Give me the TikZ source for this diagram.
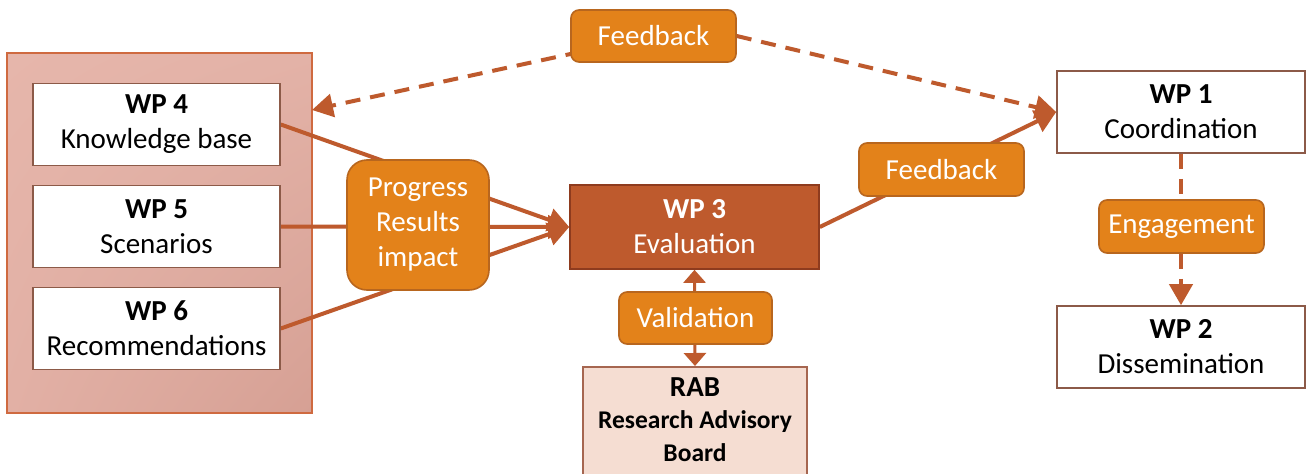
\documentclass[tikz,border=0pt]{standalone}
\usepackage{fontspec}
\setmainfont{Carlito}
\usetikzlibrary{arrows.meta,shadings}
\definecolor{conn}{HTML}{BE5A2D}
\definecolor{orfill}{HTML}{E3821A}
\definecolor{ordraw}{HTML}{B8661E}
\definecolor{wpdraw}{HTML}{8C5A48}
\definecolor{wp3fill}{HTML}{BE5A2D}
\definecolor{wp3draw}{HTML}{8E3B1E}
\definecolor{rabfill}{HTML}{F5DDD2}
\definecolor{rabdraw}{HTML}{A66650}
\definecolor{paneldraw}{HTML}{CF6A40}
\definecolor{pul}{RGB}{230,182,171}
\definecolor{pur}{RGB}{227,178,167}
\definecolor{pll}{RGB}{226,176,165}
\definecolor{plr}{RGB}{214,160,148}
\pgfdeclarelayer{bottom}
\pgfdeclarelayer{lines}
\pgfsetlayers{bottom,lines,main}
\tikzset{
  wpbox/.style={draw=wpdraw, line width=1.6pt, fill=white, minimum width=247pt, minimum height=82pt, align=center, inner sep=0pt, font=\fontsize{29}{35}\selectfont},
  orbox/.style={draw=ordraw, line width=1.6pt, fill=orfill, rounded corners=8pt, text=white, align=center, inner sep=0pt, font=\fontsize{29}{35}\selectfont},
  conn/.style={draw=conn, line width=4pt, -{Triangle[length=21pt,width=23pt]}},
  dconn/.style={conn, dash pattern=on 15pt off 10pt},
  vconn/.style={draw=conn, line width=3pt, {Triangle[length=13pt,width=22pt]}-{Triangle[length=13pt,width=22pt]}}
}
\begin{document}
\begin{tikzpicture}[x=1pt,y=-1pt]
\useasboundingbox (0,0) rectangle (1307,474);
% panel
\begin{pgfonlayer}{bottom}
\fill[white] (0,0) rectangle (1307,474);
\node[minimum width=305pt, minimum height=360pt, inner sep=0pt] (panel) at (159.5,233) {};
\shade[upper left=pul, upper right=pur, lower left=pll, lower right=plr]
  (panel.north west) rectangle (panel.south east);
\draw[paneldraw, line width=1.8pt] (panel.north west) rectangle (panel.south east);
\end{pgfonlayer}
% boxes
\node[wpbox] (wp4) at (156.5,124.5) {\textbf{WP 4}\\Knowledge base};
\node[wpbox] (wp5) at (156.5,226.5) {\textbf{WP 5}\\Scenarios};
\node[wpbox] (wp6) at (156.5,328.5) {\textbf{WP 6}\\Recommendations};
\node[orbox, minimum width=142pt, minimum height=130pt, rounded corners=20pt] (prog) at (418,225) {Progress\\Results\\impact};
\node[orbox, minimum width=165pt, minimum height=52pt] (fbtop) at (653.5,36) {Feedback};
\node[draw=wp3draw, line width=1.6pt, fill=wp3fill, text=white, minimum width=249pt, minimum height=84pt, align=center, inner sep=0pt, font=\fontsize{29}{35}\selectfont] (wp3) at (694.5,227) {\textbf{WP 3}\\Evaluation};
\node[orbox, minimum width=153pt, minimum height=52pt] (val) at (695.5,318) {Validation};
\begin{scope}
\clip (0,0) rectangle (1307,474);
\node[draw=rabdraw, line width=1.6pt, fill=rabfill, minimum width=224pt, minimum height=130pt, anchor=north, inner sep=0pt] (rab) at (695,366) {};
\end{scope}
\node[align=center, anchor=north, inner sep=0pt, font=\fontsize{25.5}{32.5}\selectfont\bfseries] (rabt) at (695,377) {{\fontsize{29}{32.5}\selectfont RAB}\\Research Advisory\\Board};
\node[wpbox, minimum width=248pt] (wp1) at (1181,112) {\textbf{WP 1}\\Coordination};
\node[wpbox, minimum width=248pt] (wp2) at (1181,347) {\textbf{WP 2}\\Dissemination};
\node[orbox, minimum width=165pt, minimum height=53pt] (eng) at (1181.5,226.5) {Engagement};
\node[orbox, minimum width=165pt, minimum height=53pt] (fbr) at (941.5,169.5) {Feedback};
% connectors
\coordinate (pl) at (312,110);
\begin{pgfonlayer}{lines}
\draw[conn] (wp4.east) -- (wp3.west);
\draw[conn] (wp5.east) -- (wp3.west);
\draw[conn] (wp6.east) -- (wp3.west);
\draw[conn] (wp3.east) -- (wp1.west);
\draw[dconn] (fbtop.center) -- (pl);
\draw[dconn] (fbtop.east) -- (wp1.west);
\draw[dconn] (wp1.south) -- (wp2.north);
\draw[vconn] (wp3.south) -- (rab.north);
\end{pgfonlayer}
\end{tikzpicture}
\end{document}
